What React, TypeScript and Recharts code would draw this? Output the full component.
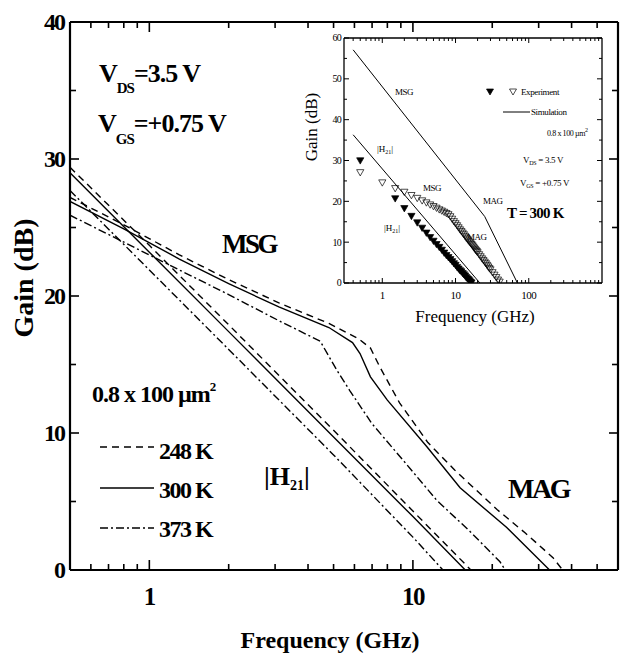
import React from "react";
import { ComposedChart, Line, Scatter, XAxis, YAxis } from "recharts";

type Pair = [number, number];

const SERIF = "'Liberation Serif', 'Times New Roman', serif";

// main panel axes
const freqTicks = [0.6, 0.7, 0.8, 0.9, 1, 2, 3, 4, 5, 6, 7, 8, 9, 10, 20, 30, 40, 50];
const freqMajor = [1, 10];
const gainTicks = [0, 5, 10, 15, 20, 25, 30, 35, 40];
const gainMajor = [0, 10, 20, 30, 40];

// |H21| curves
const h21At248K: Pair[] = [[0.5, 29.4], [1, 23.7], [2, 17.9], [5, 10.2], [10, 4.3], [16.6, 0]];
const h21At300K: Pair[] = [[0.5, 29.0], [1, 23.2], [2, 17.4], [5, 9.7], [10, 3.9], [15.8, 0]];
const h21At373K: Pair[] = [[0.5, 27.7], [1, 21.9], [2, 16.1], [5, 8.4], [10, 2.4], [13.0, 0]];

// MSG / MAG curves
const msgAt248K: Pair[] = [
  [0.5, 27.2], [0.8, 25.2], [1.3, 23.0], [2, 21.2], [3.1, 19.5], [4.8, 18.0], [6.2, 16.9],
  [6.9, 16.2], [7.5, 14.8], [8.9, 12.2], [11.4, 9.3], [14.4, 7.3], [20.9, 4.4], [26.7, 2.7],
  [34, 0.9], [37, 0],
];
const msgAt300K: Pair[] = [
  [0.5, 26.9], [0.8, 24.9], [1.3, 22.7], [2, 20.9], [3.1, 19.2], [4.8, 17.7], [5.9, 16.6],
  [6.3, 15.8], [6.9, 14.1], [8.0, 12.4], [11.3, 9.0], [15.1, 6.0], [22.7, 3.1], [33, 0],
];
const msgAt373K: Pair[] = [
  [0.5, 25.9], [1.3, 21.9], [2, 20.1], [3.1, 18.2], [4.45, 16.7], [4.83, 15.5], [5.18, 14.5],
  [5.76, 13.1], [6.98, 10.7], [9.19, 8.0], [12.3, 5.1], [16.5, 2.8], [21.4, 0.6], [22.4, 0],
];

// inset axes
const insetFreqTicks = [
  0.4, 0.5, 0.6, 0.7, 0.8, 0.9, 1, 2, 3, 4, 5, 6, 7, 8, 9, 10, 20, 30, 40, 50, 60, 70, 80, 90,
  100, 200, 300, 400, 500, 600, 700, 800, 900,
];
const insetFreqMajor = [1, 10, 100];
const insetGainTicks = [0, 5, 10, 15, 20, 25, 30, 35, 40, 45, 50, 55, 60];
const insetGainMajor = [0, 10, 20, 30, 40, 50, 60];

// inset simulation
const simMsg: Pair[] = [[0.4, 57.1], [25, 16.3], [70, 0]];
const simH21: Pair[] = [[0.4, 36.3], [21.5, 0]];

// inset experiment, T = 300 K
const expH21: Pair[] = [
  [0.5, 30.0], [1.5, 20.7], [2.0, 18.3], [2.5, 16.4], [3.0, 14.8], [3.5, 13.5], [4.0, 12.3],
  [4.5, 11.2], [5.0, 10.3], [5.5, 9.5], [6.0, 8.8], [6.5, 8.1], [7.0, 7.4], [7.5, 6.8],
  [8.0, 6.3], [8.5, 5.8], [9.0, 5.3], [9.5, 4.8], [10, 4.4], [10.5, 3.9], [11, 3.5],
  [11.5, 3.1], [12, 2.8], [12.5, 2.4], [13, 2.1], [13.5, 1.8], [14, 1.4], [14.5, 1.1],
  [15, 0.9], [15.5, 0.6], [16, 0.3], [16.5, 0.1],
];
const expMsg: Pair[] = [
  [0.5, 27.1], [1.0, 24.6], [1.5, 23.2], [2.0, 22.3], [2.5, 21.5], [3.0, 20.8], [3.5, 20.2],
  [4.0, 19.7], [4.5, 19.2], [5.0, 18.8], [5.5, 18.4], [6.0, 18.0], [6.5, 17.7], [7.0, 17.4],
  [7.5, 17.1], [8.0, 16.8], [8.5, 16.3], [9.0, 15.7], [9.5, 15.1], [10, 14.6], [10.5, 14.1],
  [11, 13.6], [11.5, 13.1], [12, 12.7], [12.5, 12.3], [13, 11.9], [13.5, 11.5], [14, 11.1],
  [14.5, 10.8], [15, 10.4], [15.5, 10.1], [16, 9.8], [16.5, 9.5], [17, 9.2], [17.5, 8.9],
  [18, 8.6], [18.5, 8.3], [19, 8.0], [19.5, 7.8], [20, 7.5], [21, 7.0], [22, 6.5], [23, 6.0],
  [24, 5.6], [25, 5.2], [26, 4.8], [27, 4.4], [28, 4.0], [29, 3.6], [30, 3.3], [32, 2.6],
  [34, 2.0], [36, 1.4], [38, 0.8], [40, 0.3],
];

const pts = (rows: Pair[]) => rows.map(([f, g]) => ({ f, g }));

type Side = "bottom" | "top" | "left" | "right";
type TickOpts = {
  majors: number[];
  major: number;
  minor: number;
  width: number;
  label?: { size: number; gap: number; weight: string; spacing: number };
};

// inward ticks on every side, labels only on majors
function makeTick(side: Side, o: TickOpts) {
  return (props: any) => {
    const { x, y, payload } = props;
    const v = payload.value;
    const isMajor = o.majors.includes(v);
    const len = isMajor ? o.major : o.minor;
    let x2 = x;
    let y2 = y;
    if (side === "bottom") y2 = y - len;
    if (side === "top") y2 = y + len;
    if (side === "left") x2 = x + len;
    if (side === "right") x2 = x - len;
    let label = null;
    if (o.label && isMajor) {
      const common = {
        fontFamily: SERIF,
        fontSize: o.label.size,
        fontWeight: o.label.weight,
        letterSpacing: o.label.spacing,
        fill: "#000",
      };
      if (side === "bottom")
        label = (
          <text x={x} y={y + o.label.gap} textAnchor="middle" {...common}>
            {v}
          </text>
        );
      if (side === "left")
        label = (
          <text x={x - o.label.gap} y={y} dy="0.34em" textAnchor="end" {...common}>
            {v}
          </text>
        );
    }
    return (
      <g>
        <line x1={x} y1={y} x2={x2} y2={y2} stroke="#000" strokeWidth={o.width} />
        {label}
      </g>
    );
  };
}

const triangle = (filled: boolean, s: number) => (p: any) => {
  const { cx, cy } = p;
  if (cx == null || cy == null) return <g />;
  return (
    <path
      d={`M${cx - s},${cy - s * 0.75}L${cx + s},${cy - s * 0.75}L${cx},${cy + s}Z`}
      fill={filled ? "#000" : "none"}
      stroke="#000"
      strokeWidth={0.7}
    />
  );
};

const frame = { stroke: "#000", strokeWidth: 2.2 };
const insetFrame = { stroke: "#000", strokeWidth: 1.3 };

const mainLabel = { size: 25, gap: 35, weight: "bold", spacing: -1.5 };
const mainYLabel = { size: 24, gap: 6, weight: "bold", spacing: -2 };

function MainChart() {
  const xCommon = {
    dataKey: "f",
    type: "number" as const,
    scale: "log" as const,
    domain: [0.5, 60],
    allowDataOverflow: true,
    ticks: freqTicks,
    interval: 0,
    tickSize: 0,
    tickMargin: 0,
    axisLine: frame,
    tickLine: false,
  };
  const yCommon = {
    dataKey: "g",
    type: "number" as const,
    domain: [0, 40],
    allowDataOverflow: true,
    ticks: gainTicks,
    interval: 0,
    tickSize: 0,
    tickMargin: 0,
    axisLine: frame,
    tickLine: false,
  };
  const series = [
    { key: "h248", data: h21At248K, dash: "7 5" },
    { key: "h300", data: h21At300K, dash: undefined },
    { key: "h373", data: h21At373K, dash: "8 3 2 3" },
    { key: "m248", data: msgAt248K, dash: "7 5" },
    { key: "m300", data: msgAt300K, dash: undefined },
    { key: "m373", data: msgAt373K, dash: "8 3 2 3" },
  ];
  return (
    <ComposedChart width={629} height={655} margin={{ top: 0, right: 0, bottom: 0, left: 0 }}>
      <XAxis
        {...xCommon}
        xAxisId="b"
        orientation="bottom"
        height={85}
        tick={makeTick("bottom", { majors: freqMajor, major: 10, minor: 6, width: 1.6, label: mainLabel })}
      />
      <XAxis
        {...xCommon}
        xAxisId="t"
        orientation="top"
        height={22}
        tick={makeTick("top", { majors: freqMajor, major: 10, minor: 6, width: 1.6 })}
      />
      <YAxis
        {...yCommon}
        yAxisId="l"
        orientation="left"
        width={70}
        tick={makeTick("left", { majors: gainMajor, major: 9, minor: 6, width: 1.6, label: mainYLabel })}
      />
      <YAxis
        {...yCommon}
        yAxisId="r"
        orientation="right"
        width={11}
        tick={makeTick("right", { majors: gainMajor, major: 9, minor: 6, width: 1.6 })}
      />
      {series.map((s) => (
        <Line
          key={s.key}
          xAxisId="b"
          yAxisId="l"
          data={pts(s.data)}
          dataKey="g"
          type="linear"
          stroke="#000"
          strokeWidth={1.4}
          strokeDasharray={s.dash}
          dot={false}
          activeDot={false}
          isAnimationActive={false}
        />
      ))}
    </ComposedChart>
  );
}

const insetXLabel = { size: 11, gap: 16, weight: "normal", spacing: -0.5 };
const insetYLabel = { size: 10, gap: 3, weight: "normal", spacing: -0.8 };

function InsetChart() {
  const xCommon = {
    dataKey: "f",
    type: "number" as const,
    scale: "log" as const,
    domain: [0.3, 1000],
    allowDataOverflow: true,
    ticks: insetFreqTicks,
    interval: 0,
    tickSize: 0,
    tickMargin: 0,
    axisLine: insetFrame,
    tickLine: false,
  };
  const yCommon = {
    dataKey: "g",
    type: "number" as const,
    domain: [0, 60],
    allowDataOverflow: true,
    ticks: insetGainTicks,
    interval: 0,
    tickSize: 0,
    tickMargin: 0,
    axisLine: insetFrame,
    tickLine: false,
  };
  return (
    <ComposedChart width={325} height={305} margin={{ top: 0, right: 0, bottom: 0, left: 0 }}>
      <XAxis
        {...xCommon}
        xAxisId="b"
        orientation="bottom"
        height={47}
        tick={makeTick("bottom", { majors: insetFreqMajor, major: 5, minor: 3, width: 1, label: insetXLabel })}
      />
      <XAxis
        {...xCommon}
        xAxisId="t"
        orientation="top"
        height={13}
        tick={makeTick("top", { majors: insetFreqMajor, major: 5, minor: 3, width: 1 })}
      />
      <YAxis
        {...yCommon}
        yAxisId="l"
        orientation="left"
        width={54}
        tick={makeTick("left", { majors: insetGainMajor, major: 5, minor: 3, width: 1, label: insetYLabel })}
      />
      <YAxis
        {...yCommon}
        yAxisId="r"
        orientation="right"
        width={13}
        tick={makeTick("right", { majors: insetGainMajor, major: 5, minor: 3, width: 1 })}
      />
      <Line xAxisId="b" yAxisId="l" data={pts(simMsg)} dataKey="g" stroke="#000" strokeWidth={1} dot={false} activeDot={false} isAnimationActive={false} />
      <Line xAxisId="b" yAxisId="l" data={pts(simH21)} dataKey="g" stroke="#000" strokeWidth={1} dot={false} activeDot={false} isAnimationActive={false} />
      <Scatter xAxisId="b" yAxisId="l" data={pts(expH21)} dataKey="g" shape={triangle(true, 3.6)} isAnimationActive={false} />
      <Scatter xAxisId="b" yAxisId="l" data={pts(expMsg)} dataKey="g" shape={triangle(false, 3.6)} isAnimationActive={false} />
    </ComposedChart>
  );
}

function Annotations() {
  const b = { fontFamily: SERIF, fontWeight: "bold" as const, fill: "#000" };
  const r = { fontFamily: SERIF, fill: "#000" };
  return (
    <svg width={629} height={655} style={{ position: "absolute", left: 0, top: 0, pointerEvents: "none" }}>
      {/* main panel */}
      <text x={99} y={82} fontSize={26} letterSpacing={-1} {...b}>
        V<tspan fontSize={15} dy={11}>DS</tspan>
        <tspan dy={-11}>=3.5 V</tspan>
      </text>
      <text x={98} y={132} fontSize={26} letterSpacing={-1} {...b}>
        V<tspan fontSize={15} dy={12}>GS</tspan>
        <tspan dy={-12}>=+0.75 V</tspan>
      </text>
      <text x={222} y={253} fontSize={27} letterSpacing={-2.5} {...b}>MSG</text>
      <text x={508} y={498} fontSize={28} letterSpacing={-2.5} {...b}>MAG</text>
      <text x={264} y={485} fontSize={26} {...b}>
        |H<tspan fontSize={14} dy={5}>21</tspan>
        <tspan dy={-5}>|</tspan>
      </text>
      <text x={92} y={402} fontSize={24} letterSpacing={-1} {...b}>
        0.8 x 100 µm<tspan fontSize={13} dy={-11}>2</tspan>
      </text>
      <line x1={100} y1={447} x2={154} y2={447} stroke="#000" strokeWidth={1.5} strokeDasharray="7 5" />
      <line x1={100} y1={488} x2={154} y2={488} stroke="#000" strokeWidth={1.5} />
      <line x1={100} y1={528} x2={154} y2={528} stroke="#000" strokeWidth={1.5} strokeDasharray="8 3 2 3" />
      <text x={159} y={459} fontSize={24} letterSpacing={-1.5} {...b}>248 K</text>
      <text x={159} y={498} fontSize={24} letterSpacing={-1.5} {...b}>300 K</text>
      <text x={159} y={537} fontSize={24} letterSpacing={-1.5} {...b}>373 K</text>
      <text x={33} y={278} fontSize={28} textAnchor="middle" transform="rotate(-90 33 278)" {...b}>
        Gain (dB)
      </text>
      <text x={330} y={648} fontSize={24} textAnchor="middle" {...b}>Frequency (GHz)</text>

      {/* inset */}
      <text x={317} y={127} fontSize={17} textAnchor="middle" transform="rotate(-90 317 127)" {...r}>
        Gain (dB)
      </text>
      <text x={475} y={322} fontSize={17} textAnchor="middle" {...r}>Frequency (GHz)</text>
      <text x={395} y={95} fontSize={9} letterSpacing={-0.5} {...r}>MSG</text>
      <text x={377} y={152} fontSize={9} {...r}>
        |H<tspan fontSize={6} dy={2}>21</tspan>
        <tspan dy={-2}>|</tspan>
      </text>
      <text x={423} y={191} fontSize={9} letterSpacing={-0.5} {...r}>MSG</text>
      <text x={483} y={204} fontSize={9} letterSpacing={-0.5} {...r}>MAG</text>
      <text x={384} y={231} fontSize={9} {...r}>
        |H<tspan fontSize={6} dy={2}>21</tspan>
        <tspan dy={-2}>|</tspan>
      </text>
      <text x={467} y={240} fontSize={9} letterSpacing={-0.5} {...r}>MAG</text>

      <path d="M486.5,89L493.5,89L490,95Z" fill="#000" stroke="#000" strokeWidth={0.7} />
      <path d="M509.5,89L516.5,89L513,95Z" fill="none" stroke="#000" strokeWidth={0.7} />
      <text x={521} y={95} fontSize={9} letterSpacing={-0.4} {...r}>Experiment</text>
      <line x1={503} y1={112} x2={530} y2={112} stroke="#000" strokeWidth={1} />
      <text x={531} y={115} fontSize={9} letterSpacing={-0.4} {...r}>Simulation</text>
      <text x={547} y={136} fontSize={8} letterSpacing={-0.4} {...r}>
        0.8 x 100 µm<tspan fontSize={6} dy={-4}>2</tspan>
      </text>
      <text x={523} y={163} fontSize={9} letterSpacing={-0.3} {...r}>
        V<tspan fontSize={6} dy={2}>DS</tspan>
        <tspan dy={-2}> = 3.5 V</tspan>
      </text>
      <text x={520} y={186} fontSize={9} letterSpacing={-0.3} {...r}>
        V<tspan fontSize={6} dy={2}>GS</tspan>
        <tspan dy={-2}> = +0.75 V</tspan>
      </text>
      <text x={507} y={218} fontSize={15} letterSpacing={-0.8} {...b}>T = 300 K</text>
    </svg>
  );
}

export default function App() {
  return (
    <div style={{ position: "absolute", left: 0, top: 0, width: 629, height: 655, background: "#fff", overflow: "hidden" }}>
      <div style={{ position: "absolute", left: 0, top: 0 }}>
        <MainChart />
      </div>
      <div style={{ position: "absolute", left: 290, top: 25 }}>
        <InsetChart />
      </div>
      <Annotations />
    </div>
  );
}
